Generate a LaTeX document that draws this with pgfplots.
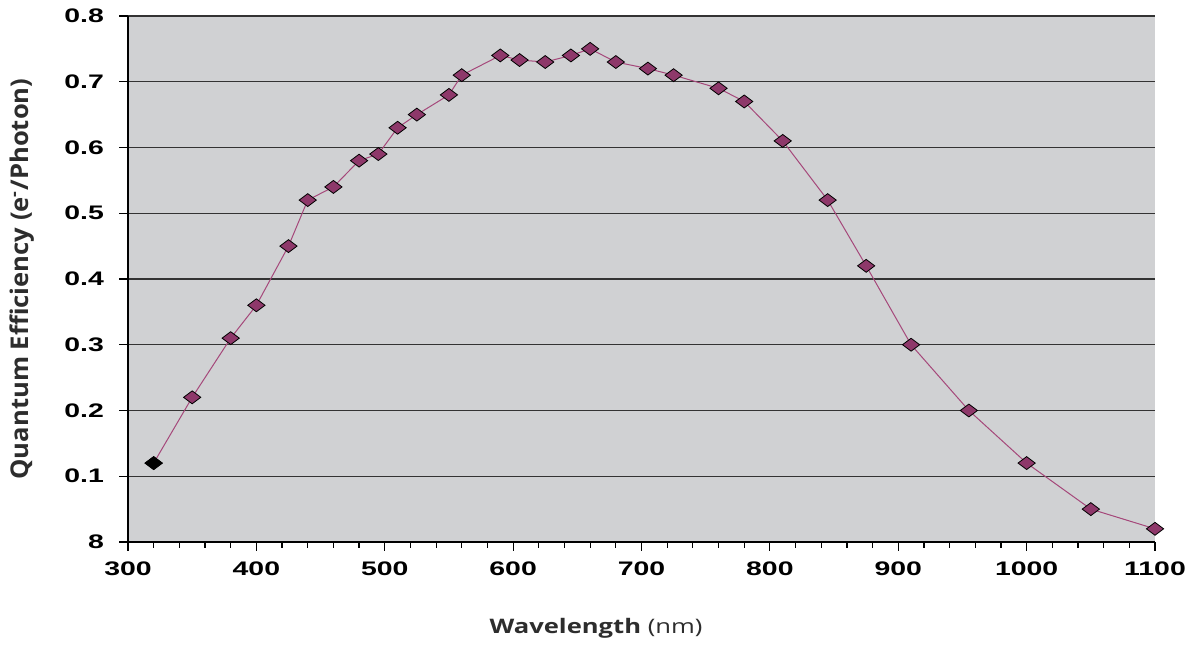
\documentclass[border=0pt]{standalone}
\usepackage{pgfplots}
\pgfplotsset{compat=1.18}
\usepackage{fontspec}
\setmainfont{Liberation Sans}
\newfontfamily\tickfont[FakeStretch=1.45]{Liberation Sans}
\newfontfamily\labelfont[FakeStretch=1.28]{Open Sans}
\definecolor{plotbg}{RGB}{208,209,211}
\definecolor{qeline}{RGB}{165,72,122}
\definecolor{qemark}{RGB}{142,56,106}
\definecolor{labelgray}{RGB}{45,45,45}

\begin{document}
\begin{tikzpicture}
\begin{axis}[
    name=ax,
    scale only axis,
    width=513.5pt, height=263pt,
    xmin=300, xmax=1100,
    ymin=0, ymax=0.8,
    xtick={300,400,...,1100},
    minor x tick num=4,
    ytick={0,0.1,...,0.8},
    yticklabels={8,0.1,0.2,0.3,0.4,0.5,0.6,0.7,0.8},
    axis x line*=bottom,
    axis y line*=left,
    axis line style={black, line width=0.6pt, -},
    axis background/.style={fill=plotbg},
    ymajorgrids,
    major grid style={black!80, line width=0.6pt},
    tick align=outside,
    major tick length=4.5pt,
    minor tick length=3pt,
    tick style={black, line width=0.6pt},
    tick label style={font=\tickfont\fontsize{9.8}{11}\selectfont\bfseries},
    /pgf/number format/assume math mode=true,
    xticklabel style={yshift=-2pt},
    yticklabel style={xshift=-4pt},
    scaled x ticks=false,
    xticklabel={\pgfmathprintnumber[1000 sep={}]{\tick}},
    every axis x label/.style={at={(axis description cs:0.4557,-0.1635)}, anchor=center},
    every axis y label/.style={at={(axis description cs:-0.1032,0.5)}, rotate=90, yscale=1.22, anchor=center},
    xlabel={\labelfont\fontsize{10}{12}\selectfont\color{labelgray}\bfseries Wavelength \mdseries(nm)},
    ylabel={\labelfont\fontsize{10}{12}\selectfont\color{labelgray}\bfseries Quantum Efficiency (e\textsuperscript{-}/Photon)},
    clip=false,
]
\addplot[color=qeline, line width=0.5pt, mark=diamond*, mark size=4.3pt,
    mark options={rotate=90, fill=qemark, draw=black, line width=0.4pt}]
coordinates {
    (320,0.12) (350,0.22) (380,0.31) (400,0.36) (425,0.45) (440,0.52)
    (460,0.54) (480,0.58) (495,0.59) (510,0.63) (525,0.65) (550,0.68)
    (560,0.71) (590,0.74) (605,0.733) (625,0.73) (645,0.74) (660,0.75)
    (680,0.73) (705,0.72) (725,0.71) (760,0.69) (780,0.67) (810,0.61)
    (845,0.52) (875,0.42) (910,0.30) (955,0.20) (1000,0.12) (1050,0.05)
    (1100,0.02)
};
% first point drawn with a black marker
\addplot[only marks, mark=diamond*, mark size=4.3pt,
    mark options={rotate=90, fill=black, draw=black, line width=0.4pt}]
coordinates {(320,0.12)};
\end{axis}
\path ([xshift=-64pt,yshift=-52pt]ax.south west) rectangle ([xshift=20.5pt,yshift=8pt]ax.north east);
\end{tikzpicture}
\end{document}
